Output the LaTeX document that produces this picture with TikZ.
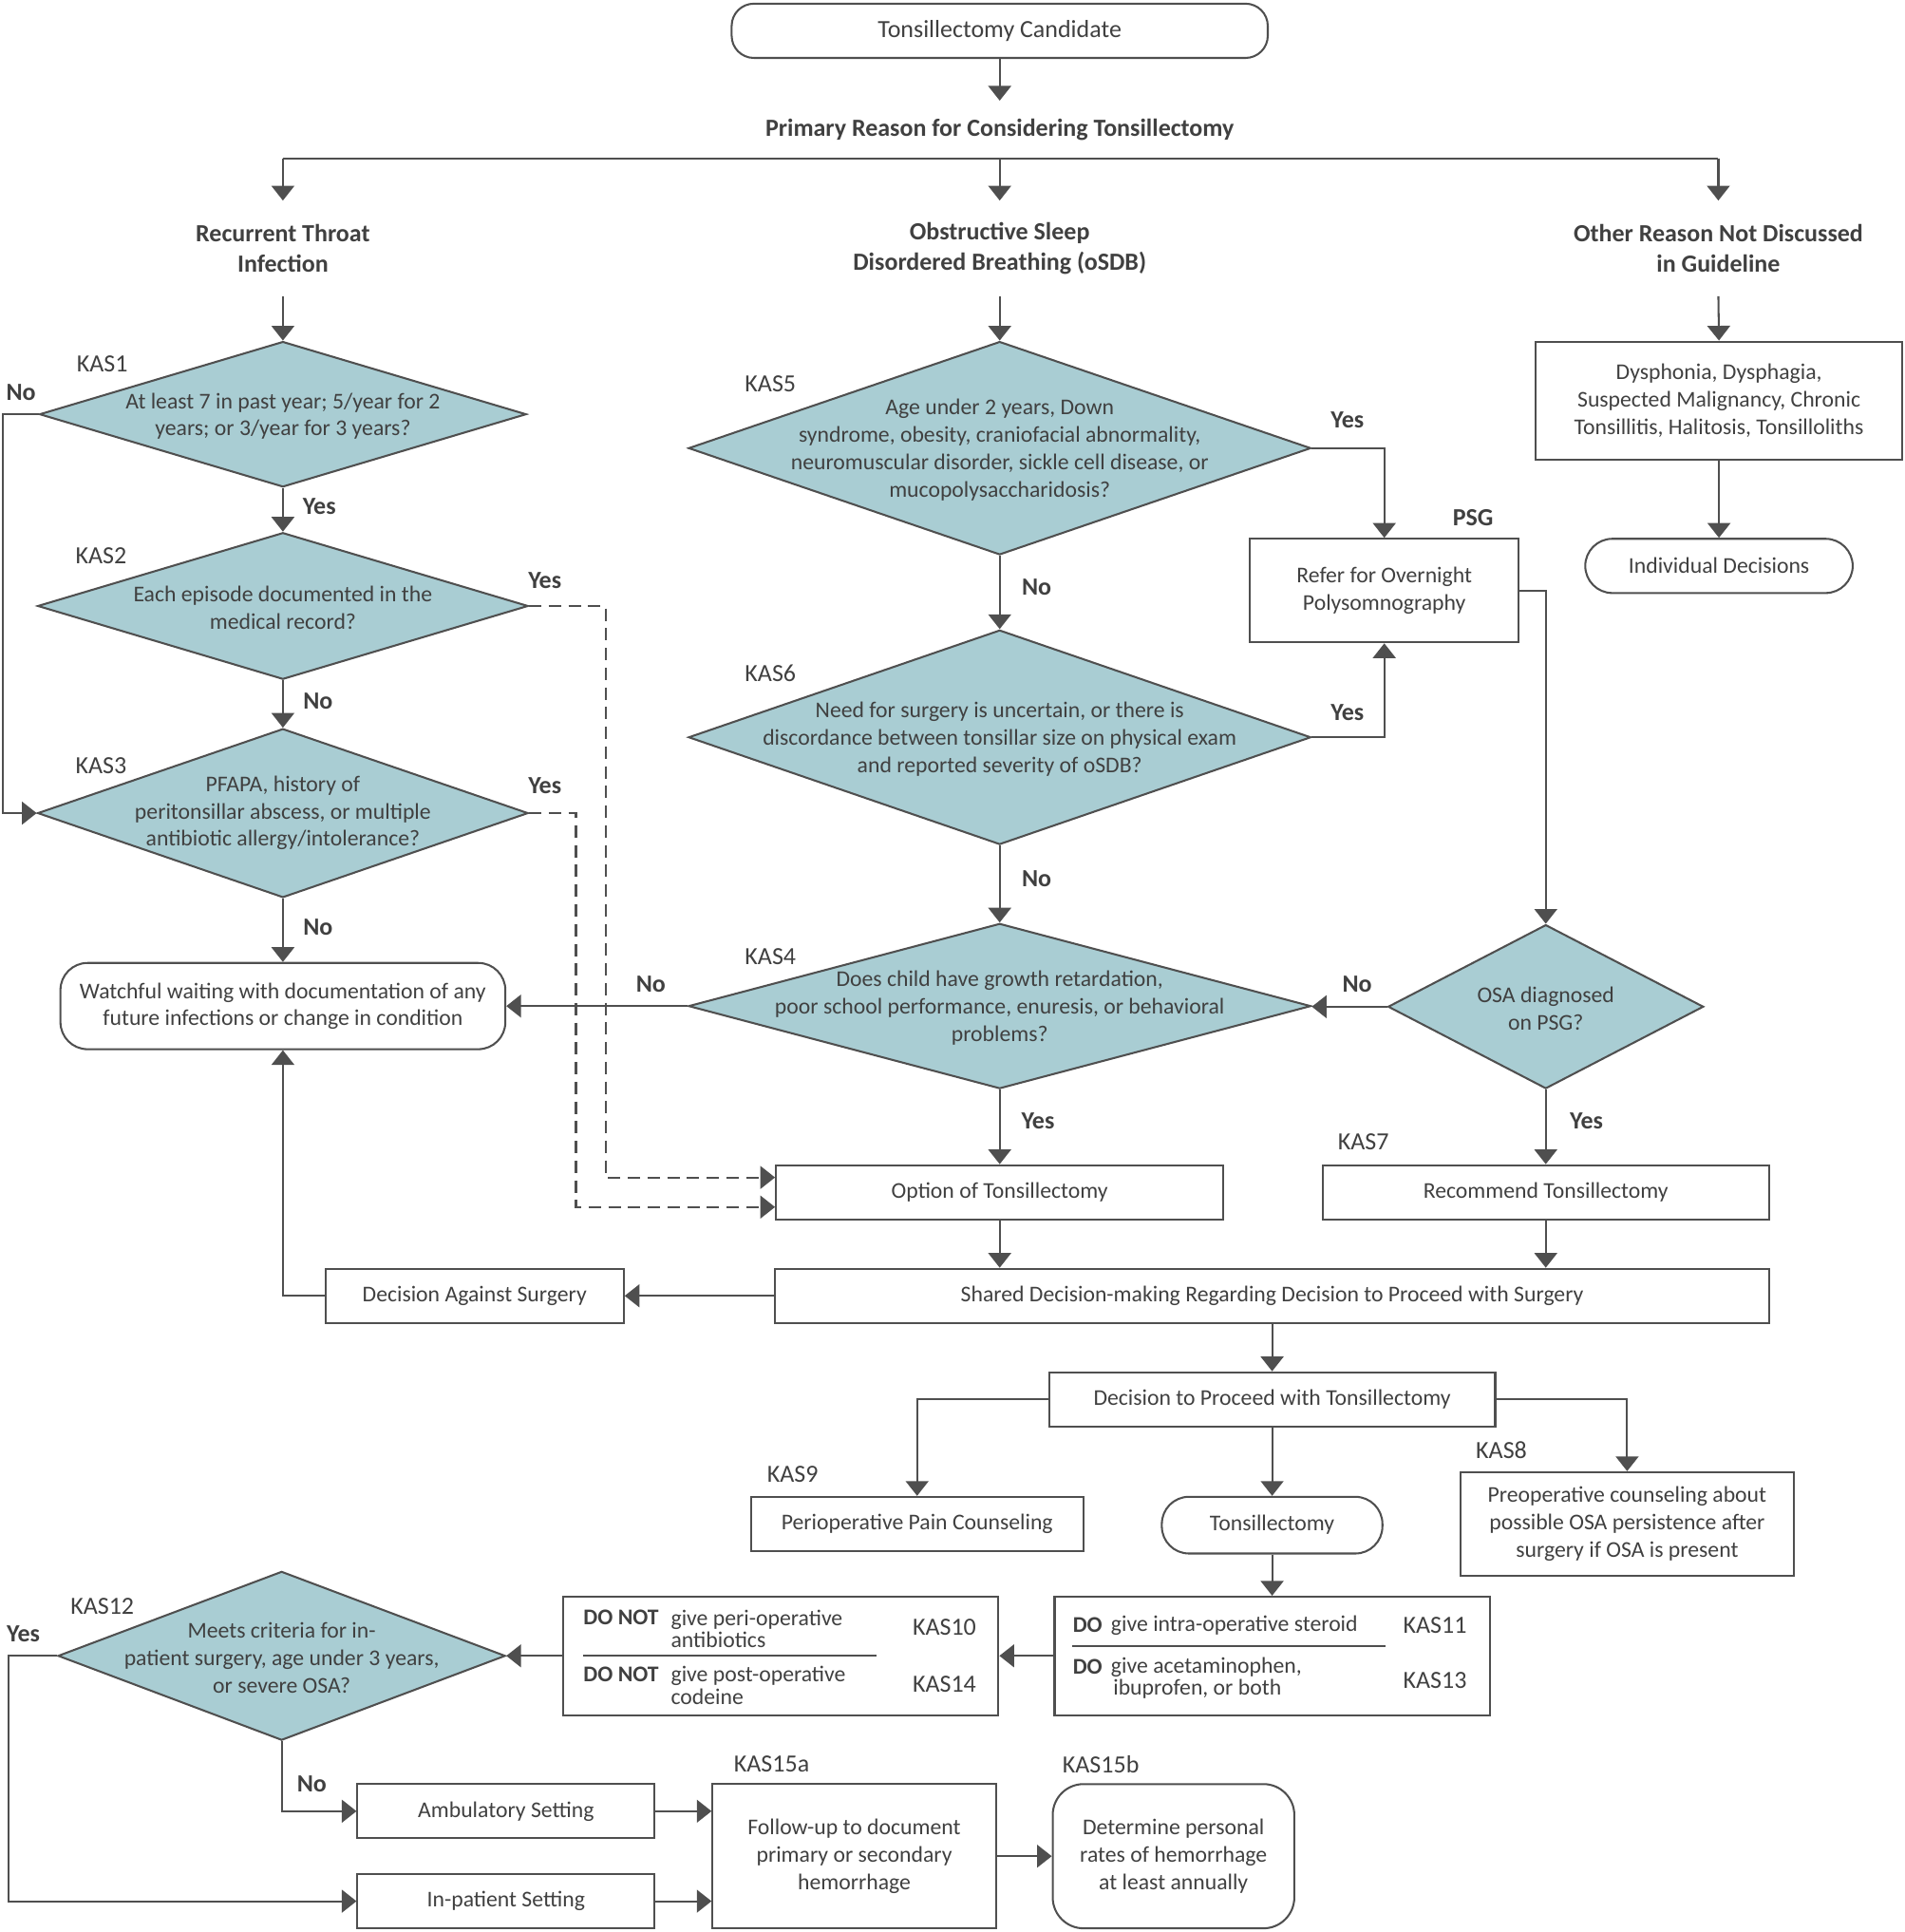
\documentclass[tikz,border=0pt]{standalone}
\usepackage{fontspec}
\setmainfont{Carlito}
\usetikzlibrary{arrows.meta,calc,shapes.geometric}
\definecolor{linegray}{HTML}{4F4F4F}
\definecolor{textgray}{HTML}{404040}
\definecolor{kasblue}{HTML}{A9CDD3}
\newcommand{\basefont}{\fontsize{10.4pt}{12.6pt}\selectfont}
\newcommand{\labelfont}{\fontsize{11.4pt}{12.6pt}\selectfont}
\newcommand{\headfont}{\fontsize{11.4pt}{13.7pt}\selectfont\bfseries}
\newcommand{\dofont}{\fontsize{10.4pt}{10.3pt}\selectfont}

\tikzset{
	ln/.style={draw=linegray, line width=0.9pt},
	arr/.style={ln, -{Triangle[width=10.5pt,length=6.8pt]}},
	dasharr/.style={arr, dash pattern=on 5.7pt off 3.4pt},
	plain/.style={text=textgray, font=\basefont, align=center, inner sep=0pt},
	kaslabel/.style={plain, font=\labelfont},
	head/.style={plain, font=\headfont, minimum height=1.54cm},
	yn/.style={plain, font=\labelfont\bfseries},
	box/.style={plain, ln, rectangle, minimum height=0.88cm},
	rbox/.style={box, rounded corners=0.44cm},
	kasdia/.style={ln, fill=kasblue, diamond, inner sep=0pt},
	dotext/.style={plain, font=\dofont, align=left, anchor=west},
}

\begin{document}
\begin{tikzpicture}[x=0.02cm, y=-0.02cm]
			%%%%% START %%%%%
			\useasboundingbox (0,0) rectangle (1545,1567);
			
			\node[rbox, font=\labelfont, rounded corners=0.36cm, minimum width=8.7cm] (cand) at (811,25) {Tonsillectomy Candidate};
			\node[plain, font=\headfont, minimum height=0.92cm] (reason) at (811,105) {Primary Reason for Considering Tonsillectomy};
			
			\node[head] (rti) at (229.5,201.5) {Recurrent Throat\\Infection};
			\node[head] (osdb) at (811,201.5) {Obstructive Sleep\\Disordered Breathing (oSDB)};
			\node[head] (other) at (1394,201.5) {Other Reason Not Discussed\\in Guideline};
			
			\coordinate (brL) at (rti |- reason.south);
			\coordinate (brR) at (other |- reason.south);
			\draw[arr] (cand.south) -- (reason.north);
			\draw[ln] (brL) -- (brR);
			\draw[arr] (brL) -- (rti.north);
			\draw[arr] (reason.south) -- (osdb.north);
			\draw[arr] (brR) -- (other.north);
			
			%%%%% RECURRENT THROAT INFECTION %%%%%
			
			\node[kasdia, minimum width=7.9cm, minimum height=2.36cm] (kas1) at (229.5,336) {};
			\node[plain] (kas1t) at ($(kas1)+(0,1.5)$) {At least 7 in past year; 5/year for 2\\years; or 3/year for 3 years?};
			\node[kaslabel] (kas1l) at (83,295) {KAS1};
			
			\node[kasdia, minimum width=7.96cm, minimum height=2.38cm] (kas2) at (229.5,491.5) {};
			\node[plain] (kas2t) at ($(kas2)+(0,1.5)$) {Each episode documented in the\\medical record?};
			\node[kaslabel] (kas2l) at (82,451) {KAS2};
			
			\node[kasdia, minimum width=7.96cm, minimum height=2.74cm] (kas3) at (229.5,659.5) {};
			\node[plain] (kas3t) at (kas3) {PFAPA, history of\\peritonsillar abscess, or multiple\\antibiotic allergy/intolerance?};
			\node[kaslabel] (kas3l) at (82,621) {KAS3};
			
			\node[rbox, minimum width=7.22cm, minimum height=1.4cm] (watch) at (229.5,816) {Watchful waiting with documentation of any\\future infections or change in condition};
			
			\draw[arr] (rti.south) -- (kas1.north);
			\draw[arr] (kas1.south) -- (kas2.north);
			\draw[arr] (kas2.south) -- (kas3.north);
			\draw[arr] (kas3.south) -- (watch.north);
			\draw[arr] (kas1.west) -- ++(-29,0) |- (kas3.west);
			
			\node[yn] (no1) at (17,318) {No};
			\node[yn] (yes1) at (259,411) {Yes};
			\node[yn] (yes2) at (442,471) {Yes};
			\node[yn] (no2) at (258,569) {No};
			\node[yn] (yes3) at (442,637) {Yes};
			\node[yn] (no3) at (258,752) {No};
			
			%%%%% OSDB %%%%%
			
			\node[kasdia, minimum width=10.1cm, minimum height=3.46cm] (kas5) at (811,363.5) {};
			\node[plain] (kas5t) at ($(kas5)+(0,1.5)$) {Age under 2 years, Down\\syndrome, obesity, craniofacial abnormality,\\neuromuscular disorder, sickle cell disease, or\\mucopolysaccharidosis?};
			\node[kaslabel] (kas5l) at (625,311) {KAS5};
			
			\node[kasdia, minimum width=10.1cm, minimum height=3.48cm] (kas6) at (811,598) {};
			\node[plain] (kas6t) at ($(kas6)+(0,1.5)$) {Need for surgery is uncertain, or there is\\discordance between tonsillar size on physical exam\\and reported severity of oSDB?};
			\node[kaslabel] (kas6l) at (625,546) {KAS6};
			
			\node[kasdia, minimum width=10.1cm, minimum height=2.68cm] (kas4) at (811,816) {};
			\node[plain] (kas4t) at ($(kas4)+(0,1.5)$) {Does child have growth retardation,\\poor school performance, enuresis, or behavioral\\problems?};
			\node[kaslabel] (kas4l) at (625,776) {KAS4};
			
			\node[box, minimum width=4.36cm, minimum height=1.68cm] (psg) at (1123,479) {Refer for Overnight\\Polysomnography};
			\node[yn] (psgl) at (1195,420) {PSG};
			
			\node[kasdia, minimum width=5.12cm, minimum height=2.66cm] (osa) at (1254,816.5) {};
			\node[plain] (osat) at ($(osa)+(0,1.5)$) {OSA diagnosed\\on PSG?};
			
			\node[box, minimum width=7.26cm] (option) at (811,967) {Option of Tonsillectomy};
			\node[box, minimum width=7.24cm] (recom) at (1254,967) {Recommend Tonsillectomy};
			\node[kaslabel] (kas7l) at (1106,926) {KAS7};
			
			\draw[arr] (osdb.south) -- (kas5.north);
			\draw[arr] (kas5.south) -- (kas6.north);
			\draw[arr] (kas6.south) -- (kas4.north);
			\draw[arr] (kas5.east) -| (psg.north);
			\draw[arr] (kas6.east) -| (psg.south);
			\draw[arr] (psg.east) -| (osa.north);
			\draw[arr] (osa.west) -- (osa.west -| kas4.east);
			\draw[arr] (kas4.west) -- (watch.east);
			\draw[arr] (kas4.south) -- (option.north);
			\draw[arr] (osa.south) -- (recom.north);
			
			\draw[dasharr] (kas2.east) -- ++(62,0) |- ($(option.west)+(0,-12)$);
			\draw[dasharr] (kas3.east) -- ++(38,0) |- ($(option.west)+(0,12)$);
			
			\node[yn] (yes5) at (1093,341) {Yes};
			\node[yn] (no5) at (841,476) {No};
			\node[yn] (yes6) at (1093,578) {Yes};
			\node[yn] (no6) at (841,713) {No};
			\node[yn] (no4) at (528,798) {No};
			\node[yn] (noosa) at (1101,798) {No};
			\node[yn] (yes4) at (842,909) {Yes};
			\node[yn] (yesosa) at (1287,909) {Yes};
			
			%%%%% OTHER REASON %%%%%
			
			\node[box, minimum width=5.94cm, minimum height=1.92cm] (dys) at (1394.5,325) {Dysphonia, Dysphagia,\\Suspected Malignancy, Chronic\\Tonsillitis, Halitosis, Tonsilloliths};
			\node[rbox, minimum width=4.34cm] (indiv) at (1394.5,459) {Individual Decisions};
			\draw[arr] (other.south) -- (dys.north);
			\draw[arr] (dys.south) -- (indiv.north);
			
			%%%%% DECISION %%%%%
			
			\node[box, minimum width=16.14cm] (shared) at (1032,1051) {Shared Decision-making Regarding Decision to Proceed with Surgery};
			\node[box, minimum width=4.84cm] (against) at (385,1051) {Decision Against Surgery};
			\node[box, minimum width=7.24cm] (proceed) at (1032,1135) {Decision to Proceed with Tonsillectomy};
			
			\draw[arr] (option.south) -- (option.south |- shared.north);
			\draw[arr] (recom.south) -- (recom.south |- shared.north);
			\draw[arr] (shared.west) -- (against.east);
			\draw[arr] (against.west) -| (watch.south);
			\draw[arr] (shared.south) -- (proceed.north);
			
			\node[box, minimum width=5.4cm] (pain) at (744,1236) {Perioperative Pain Counseling};
			\node[kaslabel] (kas9l) at (643,1196) {KAS9};
			\node[rbox, minimum width=3.58cm, minimum height=0.92cm] (tonsil) at (1032,1237) {Tonsillectomy};
			\node[box, minimum width=5.4cm, minimum height=1.68cm] (preop) at (1320,1236) {Preoperative counseling about\\possible OSA persistence after\\surgery if OSA is present};
			\node[kaslabel] (kas8l) at (1218,1176) {KAS8};
			
			\draw[arr] (proceed.west) -| (pain.north);
			\draw[arr] (proceed.east) -| (preop.north);
			\draw[arr] (proceed.south) -- (tonsil.north);
			
			%%%%% DO / DO NOT %%%%%
			
			\node[box, minimum width=7.06cm, minimum height=1.92cm] (dobox) at (1032,1343) {};
			\node[dotext, font=\dofont\bfseries] (doA) at (870,1318) {DO};
			\node[dotext] (doAt) at (901,1318) {give intra-operative steroid};
			\node[dotext, font=\dofont\bfseries] (doB) at (870,1352) {DO};
			\node[dotext] (doBt) at (901,1361) {give acetaminophen,\\\hspace{0.1em}ibuprofen, or both};
			\node[dotext, font=\labelfont] (kas11l) at (1138,1318) {KAS11};
			\node[dotext, font=\labelfont] (kas13l) at (1138,1363) {KAS13};
			\draw[ln] (870,1335) -- (1124,1335);
			
			\node[box, minimum width=7.06cm, minimum height=1.92cm] (donot) at (633.5,1343) {};
			\node[dotext, font=\dofont\bfseries] (dnA) at (473,1312) {DO NOT};
			\node[dotext] (dnAt) at (544,1321) {give peri-operative\\antibiotics};
			\node[dotext, font=\dofont\bfseries] (dnB) at (473,1358) {DO NOT};
			\node[dotext] (dnBt) at (544,1367) {give post-operative\\codeine};
			\node[dotext, font=\labelfont] (kas10l) at (740,1320) {KAS10};
			\node[dotext, font=\labelfont] (kas14l) at (740,1366) {KAS14};
			\draw[ln] (473,1343) -- (711,1343);
			
			\draw[arr] (tonsil.south) -- (dobox.north);
			\draw[arr] (dobox.west) -- (donot.east);
			
			%%%%% SETTING / FOLLOW-UP %%%%%
			
			\node[kasdia, minimum width=7.26cm, minimum height=2.74cm] (kas12) at (228.5,1343) {};
			\node[plain] (kas12t) at ($(kas12)+(0,1.5)$) {Meets criteria for in-\\patient surgery, age under 3 years,\\or severe OSA?};
			\node[kaslabel] (kas12l) at (83,1303) {KAS12};
			
			\node[box, minimum width=4.82cm] (ambul) at (410.5,1469) {Ambulatory Setting};
			\node[box, minimum width=4.82cm] (inpat) at (410.5,1542) {In-patient Setting};
			\node[box, minimum width=4.6cm, minimum height=2.34cm] (follow) at (693,1505.5) {Follow-up to document\\primary or secondary\\hemorrhage};
			\node[kaslabel] (kas15al) at (626,1431) {KAS15a};
			\node[rbox, rounded corners=0.5cm, minimum width=3.92cm, minimum height=2.34cm] (determ) at (952,1505.5) {Determine personal\\rates of hemorrhage\\at least annually};
			\node[kaslabel] (kas15bl) at (893,1431) {KAS15b};
			
			\draw[arr] (donot.west) -- (kas12.east);
			\draw[arr] (kas12.west) -- ++(-39,0) |- (inpat.west);
			\draw[arr] (kas12.south) |- (ambul.west);
			\draw[arr] (ambul.east) -- (ambul.east -| follow.west);
			\draw[arr] (inpat.east) -- (inpat.east -| follow.west);
			\draw[arr] (follow.east) -- (determ.west);
			
			\node[yn] (yes12) at (19,1325) {Yes};
			\node[yn] (no12) at (253,1447) {No};
			
			%%%%% END %%%%%
\end{tikzpicture}
\end{document}
